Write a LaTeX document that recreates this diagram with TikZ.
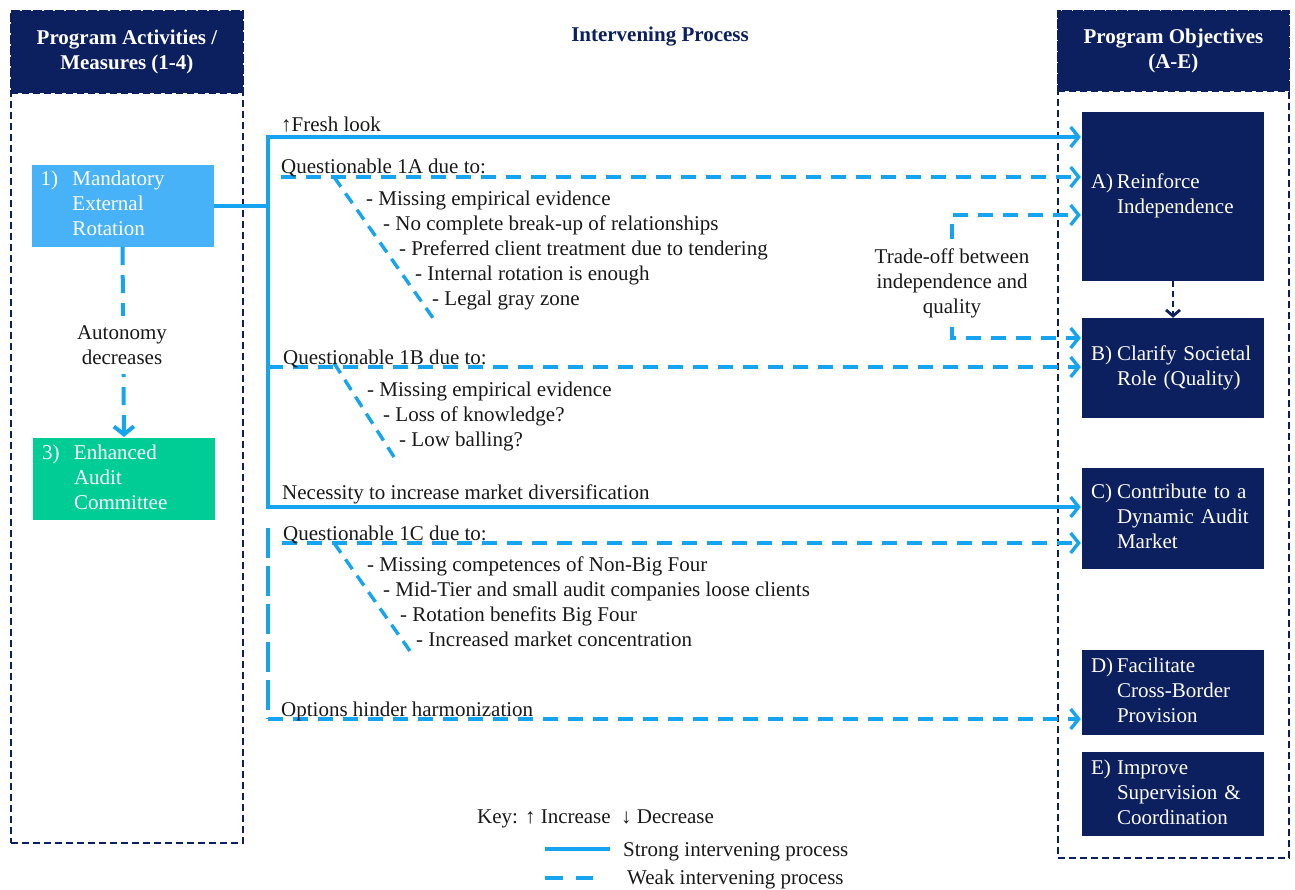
\documentclass[tikz,border=0pt]{standalone}
\usepackage{fontspec}
\setmainfont{Liberation Serif}
\usetikzlibrary{arrows.meta}

\definecolor{navy}{RGB}{12,31,94}
\definecolor{flowblue}{RGB}{22,164,240}
\definecolor{skyfill}{RGB}{72,178,248}
\definecolor{mintfill}{RGB}{0,204,150}
\definecolor{inkgray}{RGB}{25,25,25}

\newcommand\basefont{\fontsize{21}{25}\selectfont}

\tikzset{
  strong/.style={draw=flowblue, line width=3.4pt},
  weak/.style={draw=flowblue, line width=3.4pt, dash pattern=on 15pt off 10pt},
  tip/.style={-{Straight Barb[length=8pt,width=20pt]}, shorten >=1pt},
  frame/.style={draw=navy, line width=1.8pt, dash pattern=on 7pt off 4pt},
  head/.style={frame, fill=navy, text=white, font=\basefont\bfseries, align=center},
  objbox/.style={fill=navy, text=white, minimum width=182pt, inner xsep=9pt,
                 text width=164pt, align=left},
  actbox/.style={text=white, minimum width=182pt, minimum height=78pt, inner xsep=9pt,
                 text width=164pt, align=left},
  lbl/.style={anchor=base west, inner sep=0pt, text=inkgray},
}

\begin{document}
\begin{tikzpicture}[x=1pt,y=-1pt,font=\basefont]
\useasboundingbox (0,0) rectangle (1295,890);

% column frames and headings
\node[frame, minimum width=232pt, minimum height=832pt, anchor=north west] (actframe) at (10,10) {};
\node[head, minimum width=232pt, minimum height=82pt, anchor=north west] (acthead) at (10,10)
  {Program Activities /\\Measures (1-4)};
\node[frame, minimum width=231pt, minimum height=847pt, anchor=north west] (objframe) at (1057,10) {};
\node[head, minimum width=231pt, minimum height=80pt, anchor=north west] (objhead) at (1057,10)
  {Program Objectives\\(A-E)};
\node[font=\basefont\bfseries, text=navy] (midhead) at (660,37) {Intervening Process};

% program activities
\node[actbox, fill=skyfill] (rot) at (122.5,206)
  {\begin{tabular}{@{}p{32pt}@{}l@{}}1) & Mandatory\\ & External\\ & Rotation\end{tabular}};
\node[actbox, fill=mintfill] (aud) at (124,479)
  {\begin{tabular}{@{}p{32pt}@{}l@{}}3) & Enhanced\\ & Audit\\ & Committee\end{tabular}};
\draw[weak, line width=4pt, dash pattern=on 18pt off 10pt, tip] (rot.south) -- (aud.north);
\node[fill=white, minimum width=176pt, minimum height=57pt, align=center, text=inkgray] (auto)
  at (122,345) {Autonomy\\decreases};

% program objectives
\node[objbox, minimum height=169pt] (objA) at (1173,196.5)
  {\begin{tabular}{@{}p{26pt}@{}l@{}}A) & Reinforce\\ & Independence\end{tabular}};
\node[objbox, minimum height=100pt] (objB) at (1173,368)
  {\begin{tabular}{@{}p{26pt}@{}l@{}}B) & Clarify Societal\\ & Role (Quality)\end{tabular}};
\node[objbox, minimum height=101pt] (objC) at (1173,518.5)
  {\begin{tabular}{@{}p{26pt}@{}l@{}}C) & Contribute to a\\ & Dynamic Audit\\ & Market\end{tabular}};
\node[objbox, minimum height=85pt] (objD) at (1173,692.5)
  {\begin{tabular}{@{}p{26pt}@{}l@{}}D) & Facilitate\\ & Cross-Border\\ & Provision\end{tabular}};
\node[objbox, minimum height=84pt] (objE) at (1173,794)
  {\begin{tabular}{@{}p{26pt}@{}l@{}}E) & Improve\\ & Supervision \&\\ & Coordination\end{tabular}};
\draw[navy, line width=2.8pt, dash pattern=on 6pt off 4pt, -{Straight Barb[length=6pt,width=14pt]}]
  (objA.south) -- (objB.north);

% strong trunk
\coordinate (jTop) at (268,137);
\coordinate (jBot) at (268,507);
\draw[strong] (rot.east) -- (rot.east -| jTop);
\draw[strong, tip] (jBot) |- (objA.west |- jTop);
\draw[strong, tip] (jTop) |- (objC.west |- jBot);

% questionable 1A
\coordinate (q1a) at (281,177);
\draw[weak, tip] (q1a) -- (q1a -| objA.west);
\coordinate (d1a) at (334,177);
\coordinate (e1a) at (433,318);
\draw[weak, dash pattern=on 12pt off 8pt] (d1a) -- (e1a);

% trade-off bracket
\node[align=center, inner xsep=2pt, inner ysep=9pt, text=inkgray] (trade) at (952,283)
  {Trade-off between\\independence and\\quality};
\draw[weak, tip] (trade.north) |- (objA.west |- 0,215);
\draw[weak, tip] (trade.south) |- (objB.west |- 0,338);

% questionable 1B
\coordinate (q1b) at (268,367);
\draw[weak, tip] (q1b) -- (q1b -| objB.west);
\coordinate (d1b) at (334,363);
\coordinate (e1b) at (394,457);
\draw[weak, dash pattern=on 12pt off 8pt] (d1b) -- (e1b);

% questionable 1C
\coordinate (q1c) at (282,543);
\draw[weak, tip] (q1c) -- (q1c -| objC.west);
\coordinate (d1c) at (334,543);
\coordinate (e1c) at (410,651);
\draw[weak, dash pattern=on 12pt off 8pt] (d1c) -- (e1c);

% options branch
\coordinate (lowTop) at (268,528);
\coordinate (lowBot) at (268,719);
\draw[weak, dash pattern=on 30pt off 8pt] (lowTop) -- (lowBot);
\draw[weak, tip] (lowBot) -- (lowBot -| objD.west);

% process labels
\node[lbl] (tFresh) at (281,132) {↑Fresh look};
\node[lbl] (t1a) at (281,174) {Questionable 1A due to:};
\node[lbl] (t1a1) at (366,206) {- Missing empirical evidence};
\node[lbl] (t1a2) at (383,231) {- No complete break-up of relationships};
\node[lbl] (t1a3) at (399,256) {- Preferred client treatment due to tendering};
\node[lbl] (t1a4) at (415,281) {- Internal rotation is enough};
\node[lbl] (t1a5) at (432,306) {- Legal gray zone};
\node[lbl] (t1b) at (283,364) {Questionable 1B due to:};
\node[lbl] (t1b1) at (367,396) {- Missing empirical evidence};
\node[lbl] (t1b2) at (383,421) {- Loss of knowledge?};
\node[lbl] (t1b3) at (399,446) {- Low balling?};
\node[lbl] (tNec) at (282,499) {Necessity to increase market diversification};
\node[lbl] (t1c) at (283,540) {Questionable 1C due to:};
\node[lbl] (t1c1) at (367,571) {- Missing competences of Non-Big Four};
\node[lbl] (t1c2) at (383,596) {- Mid-Tier and small audit companies loose clients};
\node[lbl] (t1c3) at (400,621) {- Rotation benefits Big Four};
\node[lbl] (t1c4) at (416,646) {- Increased market concentration};
\node[lbl] (tOpt) at (281,716) {Options hinder harmonization};

% key
\node[lbl] (keyTxt) at (477,823) {Key: ↑ Increase\ \ ↓ Decrease};
\coordinate (ks1) at (545,849);
\coordinate (ks2) at (610,849);
\draw[strong] (ks1) -- (ks2);
\node[lbl] (keyStrong) at (623,856) {Strong intervening process};
\coordinate (kw1) at (545,878);
\coordinate (kw2) at (593,878);
\draw[weak, dash pattern=on 18pt off 13pt] (kw1) -- (kw2);
\node[lbl] (keyWeak) at (627,884) {Weak intervening process};
\end{tikzpicture}
\end{document}
